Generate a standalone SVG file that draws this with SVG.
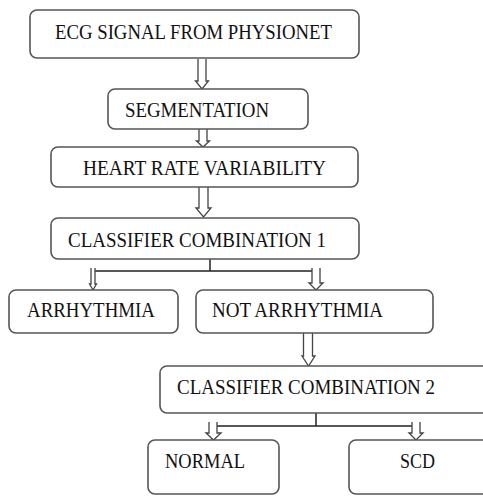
<svg xmlns="http://www.w3.org/2000/svg" width="483" height="496" viewBox="0 0 483 496">
<style>
.box{fill:#fff;stroke:#555;stroke-width:1.6}
.t{font-family:"Liberation Serif","Times New Roman",serif;font-size:20px;fill:#111}
.arr{fill:#fff;stroke:#444;stroke-width:1.3;stroke-linejoin:miter}
.ln{fill:none;stroke:#222;stroke-width:1.5}
</style>
<rect width="483" height="496" fill="#fff"/>
<g id="connectors">
<path class="arr" d="M198,59 V81 H195.5 L202,89 L208.5,81 H206 V59"/>
<path class="arr" d="M199,129 V141 H196.5 L203,147 L209.5,141 H207 V129"/>
<path class="arr" d="M199,187 V208 H196 L203.5,217 L211,208 H208 V187"/>
<path class="ln" d="M210,259 V271 M92,271 H318"/>
<path class="arr" d="M91,268 V284 H89.5 L93,290 L96.5,284 H95 V268"/>
<path class="arr" d="M312,268 V283 H309 L316,290 L323,283 H320 V268"/>
<path class="arr" d="M303.5,333 V356 H302 L308.5,366 L315,356 H312.5 V333"/>
<path class="ln" d="M316,413 V426 M213,426 H417"/>
<path class="arr" d="M209,422 V433 H206 L213.5,440 L221,433 H217 V422"/>
<path class="arr" d="M412,422 V433 H409 L416,440 L423,433 H420 V422"/>
</g>
<g id="n1"><rect class="box" x="30" y="10" width="329" height="48" rx="7"/><text class="t" x="55" y="39" textLength="277" lengthAdjust="spacingAndGlyphs">ECG SIGNAL  FROM  PHYSIONET</text></g>
<g id="n2"><rect class="box" x="108" y="89" width="200" height="40" rx="7"/><text class="t" x="125" y="117" textLength="144" lengthAdjust="spacingAndGlyphs">SEGMENTATION</text></g>
<g id="n3"><rect class="box" x="51" y="147" width="307" height="40" rx="7"/><text class="t" x="83" y="175" textLength="243" lengthAdjust="spacingAndGlyphs">HEART RATE VARIABILITY</text></g>
<g id="n4"><rect class="box" x="51" y="218" width="308" height="41" rx="7"/><text class="t" x="68" y="247" textLength="258" lengthAdjust="spacingAndGlyphs">CLASSIFIER COMBINATION 1</text></g>
<g id="n5"><rect class="box" x="9" y="290" width="169" height="43" rx="7"/><text class="t" x="27" y="317" textLength="128" lengthAdjust="spacingAndGlyphs">ARRHYTHMIA</text></g>
<g id="n6"><rect class="box" x="196" y="290" width="237" height="43" rx="7"/><text class="t" x="212" y="317" textLength="171" lengthAdjust="spacingAndGlyphs">NOT ARRHYTHMIA</text></g>
<g id="n7"><rect class="box" x="160" y="366" width="335" height="47" rx="7"/><text class="t" x="177" y="394" textLength="258" lengthAdjust="spacingAndGlyphs">CLASSIFIER COMBINATION 2</text></g>
<g id="n8"><rect class="box" x="148" y="440" width="131" height="54" rx="7"/><text class="t" x="165" y="468" textLength="80" lengthAdjust="spacingAndGlyphs">NORMAL</text></g>
<g id="n9"><rect class="box" x="349" y="440" width="145" height="54" rx="7"/><text class="t" x="400" y="468" textLength="35" lengthAdjust="spacingAndGlyphs">SCD</text></g>
</svg>
